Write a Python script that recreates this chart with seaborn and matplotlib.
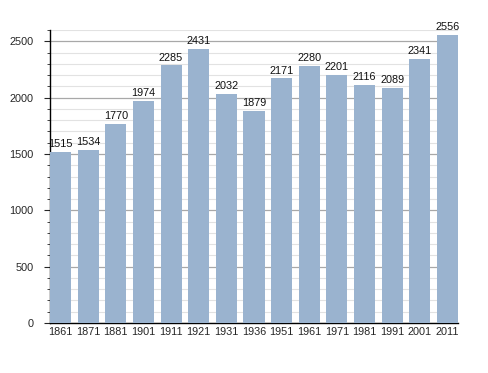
import matplotlib
matplotlib.use("Agg")
import matplotlib.pyplot as plt
import seaborn as sns
import pandas as pd
from matplotlib.ticker import MultipleLocator

years = ["1861", "1871", "1881", "1901", "1911", "1921", "1931", "1936",
         "1951", "1961", "1971", "1981", "1991", "2001", "2011"]
population = [1515, 1534, 1770, 1974, 2285, 2431, 2032, 1879,
              2171, 2280, 2201, 2116, 2089, 2341, 2556]

df = pd.DataFrame({"year": years, "pop": population})

sns.set_style("white")
plt.rcParams["font.family"] = ["Liberation Sans", "DejaVu Sans"]

fig = plt.figure(figsize=(4.88, 3.73), dpi=100)
ax = fig.add_axes([50/488, 1 - 323/373, 408/488, 293/373])

w = 0.76
sns.barplot(data=df, x="year", y="pop", color="#9ab3cf", saturation=1,
            width=w, ax=ax, zorder=3, linewidth=0, edgecolor="none")

for i, v in enumerate(population):
    ax.text(i, v + 25, str(v), ha="center", va="bottom", fontsize=7.8,
            color="#111111", zorder=4)

ax.set_xlim(-w/2, len(years) - 1 + w/2)
ax.set_ylim(0, 2600)
ax.yaxis.set_major_locator(MultipleLocator(500))
ax.yaxis.set_minor_locator(MultipleLocator(100))
ax.grid(which="major", axis="y", color="#a8a8a8", linewidth=0.9, zorder=1)
ax.grid(which="minor", axis="y", color="#e2e2e2", linewidth=0.8, zorder=0)
ax.set_axisbelow(True)

for s in ["top", "right"]:
    ax.spines[s].set_visible(False)
ax.spines["left"].set_color("black")
ax.spines["bottom"].set_color("black")
ax.spines["left"].set_linewidth(1.0)
ax.spines["bottom"].set_linewidth(1.0)

ax.tick_params(axis="y", which="major", direction="out", length=4, width=0.8,
               labelsize=7.8, left=True, pad=8)
ax.tick_params(axis="y", which="minor", direction="out", length=2, width=0.6,
               left=True)
ax.tick_params(axis="x", which="both", length=0, labelsize=7.8, pad=3)
ax.set_xlabel("")
ax.set_ylabel("")

fig.savefig("out.png", dpi=100)
